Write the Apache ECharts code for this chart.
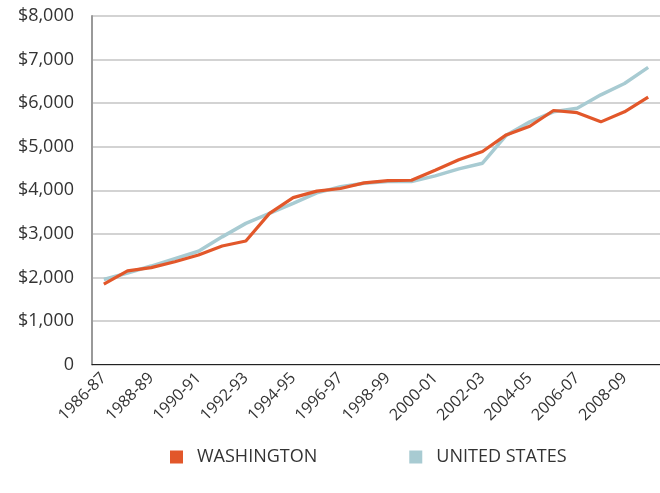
<!DOCTYPE html>
<html>
<head>
<meta charset="utf-8">
<script src="https://cdn.jsdelivr.net/npm/echarts@6/dist/echarts.min.js"></script>
<style>
  html, body { margin: 0; padding: 0; background: #fff; }
  #chart { width: 660px; height: 493px; }
</style>
</head>
<body>
<div id="chart"></div>
<script>
// school years 1986-87 .. 2009-10
const years = [
  '1986-87', '1987-88', '1988-89', '1989-90', '1990-91', '1991-92',
  '1992-93', '1993-94', '1994-95', '1995-96', '1996-97', '1997-98',
  '1998-99', '1999-00', '2000-01', '2001-02', '2002-03', '2003-04',
  '2004-05', '2005-06', '2006-07', '2007-08', '2008-09', '2009-10'
];
const washington = [
  1845, 2150, 2225, 2360, 2515, 2720, 2835, 3470, 3830, 3980, 4040, 4170,
  4220, 4230, 4460, 4700, 4890, 5270, 5470, 5830, 5780, 5570, 5800, 6140
];
const unitedStates = [
  1950, 2100, 2260, 2430, 2600, 2930, 3240, 3470, 3700, 3940, 4080, 4160,
  4200, 4200, 4330, 4490, 4620, 5260, 5570, 5800, 5880, 6190, 6450, 6820
];
const yTicks = { min: 0, max: 8000, step: 1000 };

const font = '"Open Sans", sans-serif';
const chart = echarts.init(document.getElementById('chart'));

chart.setOption({
  animation: false,
  grid: { left: 92, top: 16, width: 579.6, height: 348.5 },
  legend: {
    top: 443,
    left: 165,
    icon: 'rect',
    itemWidth: 13,
    itemHeight: 13,
    itemGap: 92,
    textStyle: { fontFamily: font, fontSize: 18, color: '#333', padding: [0, 0, 0, 9] },
    data: ['WASHINGTON', 'UNITED STATES']
  },
  xAxis: {
    type: 'category',
    data: years,
    boundaryGap: true,
    axisLine: { lineStyle: { color: '#222', width: 1 } },
    axisTick: { interval: 1, alignWithLabel: true, length: 9, lineStyle: { color: '#222' } },
    axisLabel: {
      interval: 1,
      rotate: 45,
      margin: 11,
      fontFamily: font,
      fontSize: 16,
      color: '#333'
    }
  },
  yAxis: {
    type: 'value',
    min: yTicks.min,
    max: yTicks.max,
    interval: yTicks.step,
    axisLine: { show: true, lineStyle: { color: '#999', width: 2 } },
    axisTick: { show: false },
    splitLine: { lineStyle: { color: '#c4c4c4', width: 1.5 } },
    axisLabel: {
      margin: 18,
      fontFamily: font,
      fontSize: 18,
      color: '#333',
      formatter: (v) => v === 0 ? '0' : '$' + v.toLocaleString('en-US')
    }
  },
  series: [
    {
      name: 'UNITED STATES',
      type: 'line',
      data: unitedStates,
      symbol: 'none',
      z: 2,
      itemStyle: { color: '#a8cbd2' },
      lineStyle: { color: '#a8cbd2', width: 3.5 }
    },
    {
      name: 'WASHINGTON',
      type: 'line',
      data: washington,
      symbol: 'none',
      z: 3,
      itemStyle: { color: '#e2572a' },
      lineStyle: { color: '#e2572a', width: 3.2 }
    }
  ]
});
</script>
</body>
</html>
